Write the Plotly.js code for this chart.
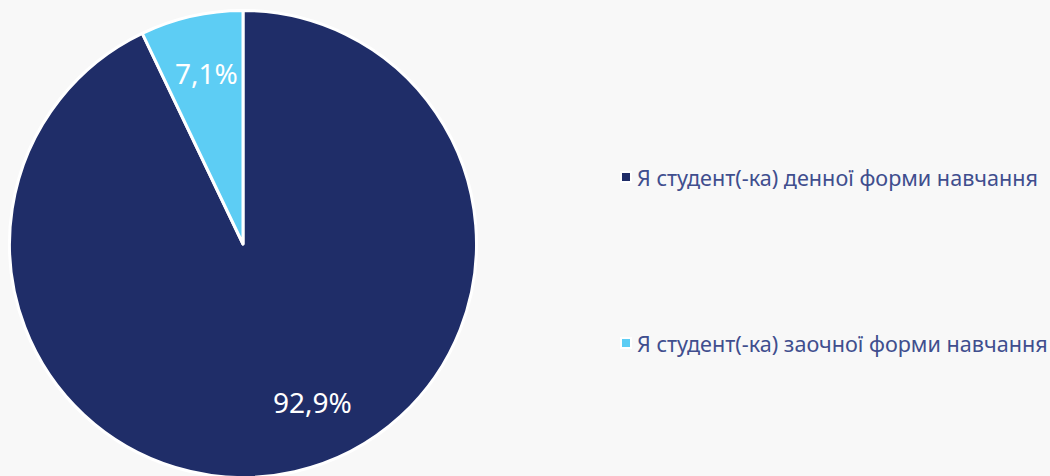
<!DOCTYPE html>
<html><head><meta charset="utf-8">
<script src="https://cdn.plot.ly/plotly-3.0.1.min.js"></script>
<style>html,body{margin:0;padding:0;background:#f8f8f8;overflow:hidden}</style>
</head><body><div id="chart" style="width:1050px;height:480px"></div>
<script>
const labels = ["Я студент(-ка) денної форми навчання", "Я студент(-ка) заочної форми навчання"];
const values = [92.9, 7.1];
const colors = ["#1f2d68", "#5dcdf4"];

const total = values.reduce((a,b)=>a+b,0);
const pctText = v => (v/total*100).toFixed(1).replace('.', ',') + '%';

const labelPos = [[312, 402], [206, 73]];
const legendPos = [[626, 177], [626, 343]];
const W = 1050, H = 480;

const annotations = [];
const shapes = [];
values.forEach((v,i)=>{
  annotations.push({xref:'paper', yref:'paper', x: labelPos[i][0]/W, y: 1-labelPos[i][1]/H,
    text: pctText(v), showarrow:false, xanchor:'center', yanchor:'middle',
    font:{family:'Noto Sans, sans-serif', size:28, color:'#ffffff'}});
  annotations.push({xref:'paper', yref:'paper', x:(legendPos[i][0]+9)/W, y:1-legendPos[i][1]/H,
    text: labels[i], showarrow:false, xanchor:'left', yanchor:'middle',
    font:{family:'Noto Sans, sans-serif', size:21.6, color:'#404e8e'}});
  shapes.push({type:'rect', xref:'paper', yref:'paper',
    x0:(legendPos[i][0]-5)/W, x1:(legendPos[i][0]+5)/W,
    y0:1-(legendPos[i][1]+5)/H, y1:1-(legendPos[i][1]-5)/H,
    fillcolor: colors[i], line:{color:'#ffffff', width:2}});
});

const data = [{
  type:'pie', labels: labels, values: values, sort:false, direction:'clockwise', rotation:0,
  marker:{colors: colors, line:{color:'#ffffff', width:3}},
  textinfo:'none', hoverinfo:'label+percent',
  domain:{x:[9.5/W, 476.5/W], y:[1-477.5/H, 1-10.5/H]}
}];
const layout = {
  width:W, height:H, margin:{l:0,r:0,t:0,b:0},
  paper_bgcolor:'#f8f8f8', plot_bgcolor:'#f8f8f8', showlegend:false,
  annotations: annotations, shapes: shapes, separators: ', '
};
Plotly.newPlot('chart', data, layout, {displayModeBar:false, staticPlot:true});
</script></body></html>
